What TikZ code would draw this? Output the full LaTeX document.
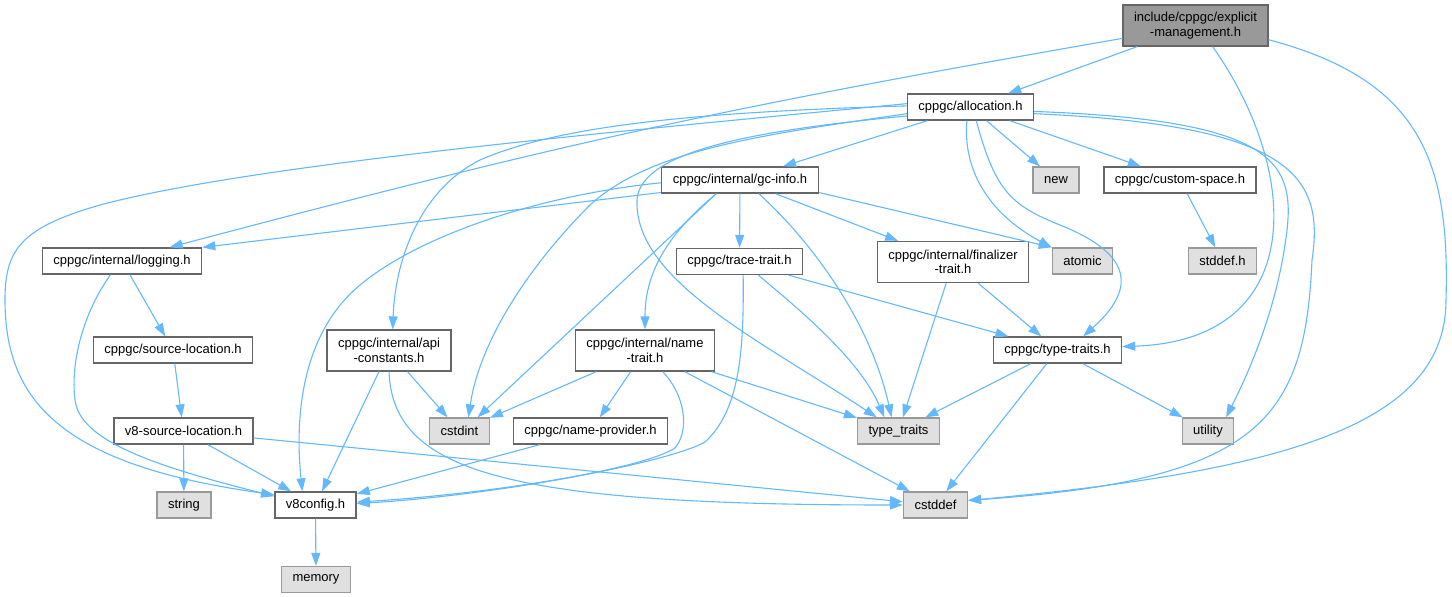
\documentclass[tikz,border=0pt]{standalone}
\usepackage{fontspec}
\setmainfont{Liberation Sans}
\usetikzlibrary{arrows.meta}
\definecolor{edgecol}{HTML}{63B8FF}
\definecolor{nodeline}{HTML}{666666}
\definecolor{sysfill}{HTML}{E0E0E0}
\definecolor{sysline}{HTML}{999999}
\definecolor{rootfill}{HTML}{999999}

\begin{document}
\begin{tikzpicture}[x=1pt, y=-1pt,
	hdr/.style={draw=nodeline, fill=white, line width=1.3pt, inner xsep=11pt, inner ysep=2pt,
		minimum height=26pt, align=center, font=\fontsize{13}{14.5}\selectfont},
	syshdr/.style={hdr, draw=sysline, fill=sysfill},
	roothdr/.style={hdr, fill=rootfill},
	tall/.style={minimum height=41pt},
	incl/.style={draw=edgecol, line width=1.1pt, -{Triangle[length=13pt,width=9pt]}}]
			\useasboundingbox (0,0) rectangle (1452,597);
			\node[roothdr, tall] (expl) at (1195.5,25.5) {include/cppgc/explicit\\-management.h};
			\node[hdr] (alloc) at (970.5,107) {cppgc/allocation.h};
			\node[hdr] (gcinfo) at (740,180) {cppgc/internal/gc-info.h};
			\node[syshdr] (new) at (1056,180) {new};
			\node[hdr] (custom) at (1180,180) {cppgc/custom-space.h};
			\node[hdr] (logging) at (122,261) {cppgc/internal/logging.h};
			\node[hdr] (trace) at (739.5,261.5) {cppgc/trace-trait.h};
			\node[hdr, tall] (final) at (953,262) {cppgc/internal/finalizer\\-trait.h};
			\node[syshdr] (atomic) at (1082.5,261) {atomic};
			\node[syshdr] (stddefh) at (1222.5,261) {stddef.h};
			\node[hdr] (srcloc) at (173,350) {cppgc/source-location.h};
			\node[hdr, tall] (api) at (389,350.5) {cppgc/internal/api\\-constants.h};
			\node[hdr, tall] (name) at (645,350.5) {cppgc/internal/name\\-trait.h};
			\node[hdr] (typetr) at (1057.5,350) {cppgc/type-traits.h};
			\node[hdr] (v8src) at (183.5,431) {v8-source-location.h};
			\node[syshdr] (cstdint) at (459.5,431) {cstdint};
			\node[hdr] (nameprov) at (590.5,431) {cppgc/name-provider.h};
			\node[syshdr] (typetraits) at (898.5,431) {type\_traits};
			\node[syshdr] (utility) at (1208,431) {utility};
			\node[syshdr] (string) at (184,505) {string};
			\node[hdr] (v8config) at (315.5,505) {v8config.h};
			\node[syshdr] (cstddef) at (935.5,505) {cstddef};
			\node[syshdr] (memory) at (316,579.5) {memory};

			\draw[incl] (expl) -- (alloc);
			\draw[incl] (expl.190) .. controls (722,108) and (567,142) .. (logging.16);
			\draw[incl] (expl.-51) .. controls (1300,170) and (1310,340) .. (typetr.3);
			\draw[incl] (expl.-11) .. controls (1420,80) and (1450,160) .. (1446,300) .. controls (1446,420) and (1300,470) .. (cstddef.8);

			\draw[incl] (alloc) -- (gcinfo);
			\draw[incl] (alloc) -- (new);
			\draw[incl] (alloc) -- (custom);
			\draw[incl] (alloc.-105) .. controls (962,180) and (1000,220) .. (atomic.north west);
			\draw[incl] (alloc.-67) .. controls (995,190) and (1010,205) .. (1060,225) .. controls (1135,255) and (1135,290) .. (typetr.28);
			\draw[incl] (alloc.-4) .. controls (1270,120) and (1295,160) .. (1287,230) .. controls (1280,290) and (1260,350) .. (utility.37);
			\draw[incl] (alloc.-6) .. controls (1290,125) and (1325,175) .. (1312,260) .. controls (1305,420) and (1260,480) .. (cstddef.8);
			\draw[incl] (alloc.-172) .. controls (760,130) and (640,150) .. (637,200) .. controls (634,280) and (760,340) .. (typetraits.148);
			\draw[incl] (alloc.-174) .. controls (760,135) and (650,150) .. (590,205) .. controls (530,265) and (480,340) .. (cstdint.57);
			\draw[incl] (alloc.179) .. controls (700,112) and (560,125) .. (480,160) .. controls (420,190) and (395,260) .. (api.80);
			\draw[incl] (alloc.177) .. controls (600,133) and (250,165) .. (100,205) .. controls (20,228) and (5,250) .. (5,300) .. controls (5,400) and (60,465) .. (v8config.166);

			\draw[incl] (gcinfo.-9) -- (atomic.north west);
			\draw[incl] (gcinfo.-150) -- (cstdint.37);
			\draw[incl] (gcinfo.-36) .. controls (810,240) and (870,320) .. (typetraits.117);
			\draw[incl] (gcinfo) -- (final);
			\draw[incl] (gcinfo.-171) -- (logging.north east);
			\draw[incl] (gcinfo.-150) .. controls (660,240) and (645,280) .. (name.north);
			\draw[incl] (gcinfo) -- (trace);
			\draw[incl] (gcinfo.-178) .. controls (540,195) and (420,235) .. (360,285) .. controls (300,335) and (295,420) .. (v8config.134);

			\draw[incl] (logging) -- (srcloc);
			\draw[incl] (logging.-130) .. controls (85,310) and (70,360) .. (75,400) .. controls (80,440) and (150,465) .. (v8config.168);
			\draw[incl] (srcloc) -- (v8src);
			\draw[incl] (v8src) -- (cstddef);
			\draw[incl] (v8src) -- (string);
			\draw[incl] (v8src) -- (v8config);

			\draw[incl] (api.south) .. controls (393,470) and (500,505) .. (cstddef.west);
			\draw[incl] (api) -- (cstdint);
			\draw[incl] (api) -- (v8config);

			\draw[incl] (name) -- (cstddef);
			\draw[incl] (name) -- (cstdint);
			\draw[incl] (name) -- (typetraits);
			\draw[incl] (name) -- (nameprov);
			\draw[incl] (name.-50) .. controls (685,395) and (690,430) .. (675,448) .. controls (645,468) and (500,493) .. (v8config.4);
			\draw[incl] (nameprov) -- (v8config);

			\draw[incl] (trace.-36) .. controls (800,310) and (860,360) .. (typetraits.136);
			\draw[incl] (trace) -- (typetr);
			\draw[incl] (trace.-75) .. controls (744,350) and (740,410) .. (705,442) .. controls (670,462) and (500,495) .. (v8config.2);
			\draw[incl] (final) -- (typetraits);
			\draw[incl] (final) -- (typetr);

			\draw[incl] (typetr) -- (cstddef);
			\draw[incl] (typetr) -- (typetraits);
			\draw[incl] (typetr) -- (utility);
			\draw[incl] (custom) -- (stddefh);
			\draw[incl] (v8config) -- (memory);
		\end{tikzpicture}
\end{document}
